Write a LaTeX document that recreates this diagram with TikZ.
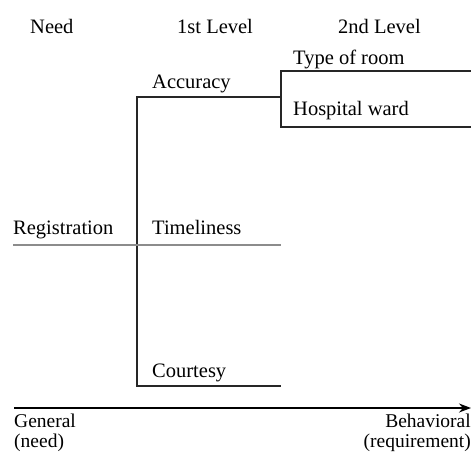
\documentclass[tikz,border=0pt]{standalone}
\usepackage{fontspec}
\setmainfont{Liberation Serif}
\usetikzlibrary{arrows.meta}
\begin{document}
\begin{tikzpicture}[x=1pt,y=-1pt,
  lbl/.style={inner sep=0pt,anchor=base west,font=\fontsize{20.5}{24}\selectfont},
  pair/.style={inner sep=0pt,font=\fontsize{19.5}{20}\selectfont},
  rule/.style={line width=1.2pt,black!85},
  faint/.style={line width=1.2pt,black!45}]
\useasboundingbox (0,0) rectangle (471,453);

% column headings
\node[lbl] (need) at (30,33) {Need};
\node[lbl] (first) at (177,33) {1st Level};
\node[lbl] (second) at (338,33) {2nd Level};

% labels
\node[lbl] (room) at (293,64) {Type of room};
\node[lbl] (acc) at (152,88) {Accuracy};
\node[lbl] (ward) at (293,115) {Hospital ward};
\node[lbl] (reg) at (13,234) {Registration};
\node[lbl] (time) at (152,234) {Timeliness};
\node[lbl] (court) at (152,377) {Courtesy};

% ends of the scale
\node[pair,align=left,anchor=north west] (gen) at (14,414) {General\\(need)};
\node[pair,align=right,anchor=north east] (beh) at (471,414) {Behavioral\\(requirement)};

% corner points of the brackets
\coordinate (t1) at (137,97);
\coordinate (t2) at (281,97);
\coordinate (b1) at (137,386);
\coordinate (b2) at (281,386);
\coordinate (m1) at (13,245);
\coordinate (m2) at (281,245);
\coordinate (r1) at (281,71);
\coordinate (r2) at (471,71);
\coordinate (r3) at (281,127);
\coordinate (r4) at (471,127);
\coordinate (a1) at (14,408);
\coordinate (a2) at (471,408);

% first level bracket
\draw[rule] (t2) -- (t1) -- (b1) -- (b2);
\draw[faint] (m1) -- (m2);
% second level bracket
\draw[rule] (r2) -- (r1) -- (r3) -- (r4);
% scale axis
\draw[line width=1.2pt,-{Stealth[length=12pt,width=9pt]}] (a1) -- (a2);
\end{tikzpicture}
\end{document}
